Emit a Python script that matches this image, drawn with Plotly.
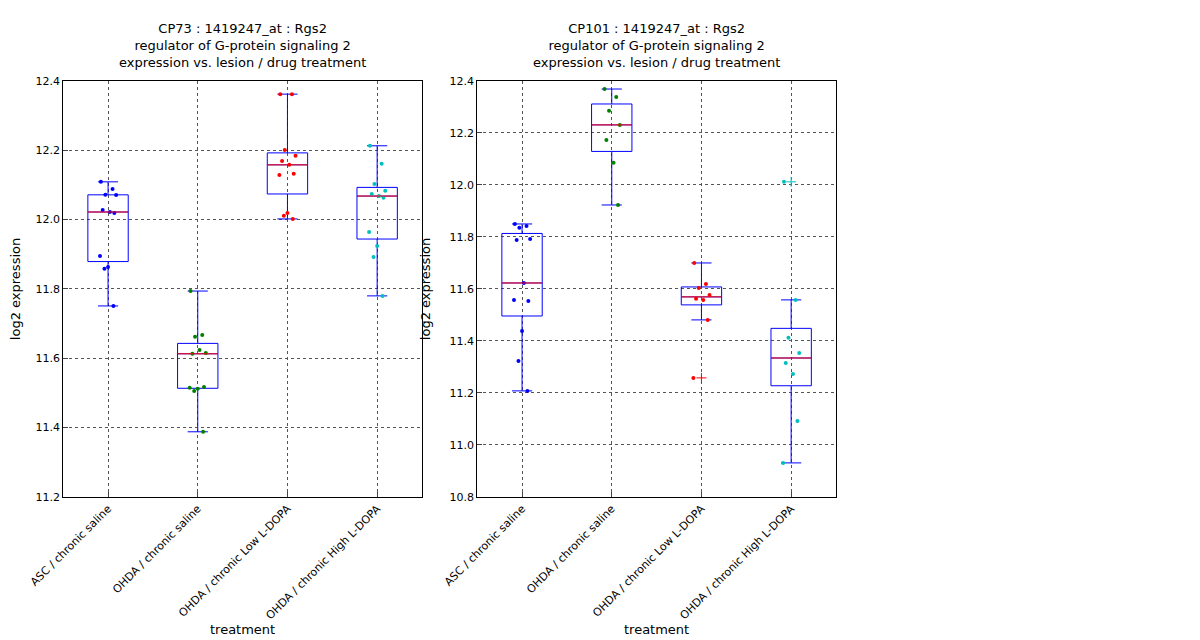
import numpy as np
import plotly.graph_objects as go
from plotly.subplots import make_subplots

groups = ["ASC / chronic saline", "OHDA / chronic saline",
          "OHDA / chronic Low L-DOPA", "OHDA / chronic High L-DOPA"]
colors = ["#0000ff", "#008000", "#ff0000", "#00bfbf"]

# CP73 values
cp73 = [
    [12.109, 12.088, 12.072, 12.071, 12.028, 12.022, 12.019, 11.895, 11.863, 11.858, 11.751],
    [11.794, 11.667, 11.662, 11.615, 11.613, 11.624, 11.517, 11.515, 11.512, 11.506, 11.388],
    [12.362, 12.362, 12.201, 12.184, 12.169, 12.158, 12.132, 12.129, 12.019, 12.011, 12.002],
    [12.213, 12.161, 12.103, 12.083, 12.074, 12.068, 12.063, 11.964, 11.924, 11.892, 11.780],
]
# CP101 values
cp101 = [
    [11.850, 11.842, 11.835, 11.792, 11.788, 11.623, 11.554, 11.558, 11.438, 11.323, 11.208],
    [12.369, 12.338, 12.285, 12.231, 12.173, 12.085, 11.923],
    [11.700, 11.619, 11.604, 11.577, 11.562, 11.558, 11.481, 11.258],
    [12.012, 11.558, 11.412, 11.354, 11.315, 11.273, 11.092, 10.931],
]
titles = ["CP73 : 1419247_at : Rgs2<br>regulator of G-protein signaling 2<br>expression vs. lesion / drug treatment",
          "CP101 : 1419247_at : Rgs2<br>regulator of G-protein signaling 2<br>expression vs. lesion / drug treatment"]
yranges = [[11.2, 12.4], [10.8, 12.4]]
# fixed horizontal scatter pattern for the dots
jit = [-0.08, 0.05, -0.03, 0.09, -0.06, 0.02, 0.07, -0.09, 0.0, -0.04, 0.06]

fig = make_subplots(rows=1, cols=2)
shapes = []
for c, data in enumerate([cp73, cp101], start=1):
    xref = "x" if c == 1 else "x2"
    yref = "y" if c == 1 else "y2"
    for i, vals in enumerate(data):
        v = np.array(vals)
        q1, med, q3 = np.percentile(v, [25, 50, 75])
        iqr = q3 - q1
        lo = v[v >= q1 - 1.5 * iqr].min()
        hi = v[v <= q3 + 1.5 * iqr].max()
        fig.add_trace(go.Box(
            x=[i], q1=[q1], median=[med], q3=[q3], lowerfence=[lo], upperfence=[hi],
            boxpoints=False,
            line=dict(color="#0000ff", width=1), fillcolor="rgba(0,0,0,0)",
            whiskerwidth=0.5, width=0.45, showlegend=False, hoverinfo="y",
        ), row=1, col=c)
        out = (v < lo) | (v > hi)
        if out.any():
            fig.add_trace(go.Scatter(
                x=[i] * int(out.sum()), y=v[out], mode="markers",
                marker=dict(symbol="cross-thin", size=7, line=dict(color=colors[i], width=1)),
                showlegend=False, hoverinfo="skip"), row=1, col=c)
        fig.add_trace(go.Scatter(
            x=[i + jit[k % len(jit)] for k in range(len(v))], y=v, mode="markers",
            marker=dict(color=colors[i], size=4), showlegend=False,
        ), row=1, col=c)
        shapes.append(dict(type="line", xref=xref, yref=yref,
                           x0=i - 0.225, x1=i + 0.225, y0=med, y1=med,
                           line=dict(color="red", width=1)))

ax = dict(showline=True, mirror=True, linecolor="black", ticks="inside",
          showgrid=True, gridcolor="#555", griddash="dot", gridwidth=1,
          zeroline=False, automargin=False)
fig.update_xaxes(**ax, tickangle=-45, title_text="treatment", title_standoff=0,
                 tickmode="array", tickvals=[0, 1, 2, 3], ticktext=groups,
                 range=[-0.5, 3.5])
fig.update_yaxes(**ax, dtick=0.2, tickformat=".1f", title_text="log2 expression")
fig.update_layout(
    xaxis=dict(domain=[0.046, 0.345]), xaxis2=dict(domain=[0.391, 0.69]),
    yaxis=dict(domain=[0.236, 0.886], range=yranges[0]),
    yaxis2=dict(domain=[0.236, 0.886], range=yranges[1]),
    width=1200, height=640, margin=dict(l=0, r=0, t=0, b=0),
    paper_bgcolor="white", plot_bgcolor="white",
    font=dict(family="DejaVu Sans", size=11, color="black"),
    shapes=shapes,
    annotations=[
        dict(text=titles[0], x=0.1955, y=0.9, xref="paper", yref="paper",
             xanchor="center", yanchor="bottom", showarrow=False, font=dict(size=13)),
        dict(text=titles[1], x=0.5405, y=0.9, xref="paper", yref="paper",
             xanchor="center", yanchor="bottom", showarrow=False, font=dict(size=13)),
    ],
)
fig.write_html("out.html")
